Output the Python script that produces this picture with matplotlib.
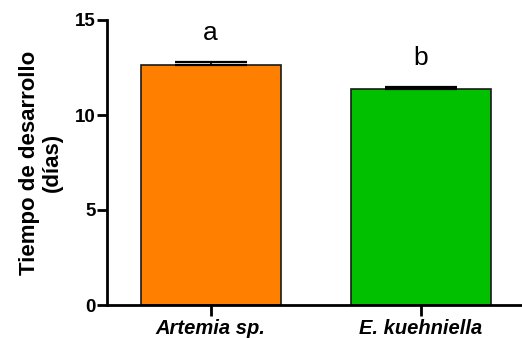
import matplotlib
matplotlib.use('Agg')
import matplotlib.pyplot as plt

# data
categories = ['Artemia sp.', 'E. kuehniella']
means = [12.63, 11.37]
errors = [0.17, 0.10]
letters = ['a', 'b']
letter_y = [14.3, 13.0]
bar_colors = ['#FF8000', '#00C000']
yticks = [0, 5, 10, 15]

plt.rcParams['font.family'] = ['Liberation Sans', 'DejaVu Sans']

fig = plt.figure(figsize=(5.22, 3.38), dpi=100)
ax = fig.add_axes([107 / 522, 33 / 338, 1 - 107 / 522, 285 / 338])

x = list(range(len(categories)))
ax.bar(x, means, width=0.665, color=bar_colors, edgecolor='#1a1a1a',
       linewidth=1.2, zorder=2)
# only upper error bars
ax.errorbar(x, means, yerr=[[0, 0], errors], fmt='none', ecolor='black',
            elinewidth=1.2, capsize=26, capthick=1.6, zorder=3)

for xi, lab, ly in zip(x, letters, letter_y):
    ax.text(xi, ly, lab, ha='center', va='center', fontsize=19)

ax.set_xlim(-0.493, 1.48)
ax.set_ylim(0, 15)
ax.set_yticks(yticks)
ax.set_xticks(x)
ax.set_xticklabels(categories, fontsize=14.5, fontweight='bold', style='italic')
ax.tick_params(axis='y', labelsize=13.5, width=2, length=7, pad=1)
ax.tick_params(axis='x', width=2, length=8, pad=2)
for lbl in ax.get_yticklabels():
    lbl.set_fontweight('bold')

ax.set_ylabel('Tiempo de desarrollo\n(días)', fontsize=16, fontweight='bold',
              linespacing=1.15)
ax.yaxis.set_label_coords(-0.106, 0.5)

ax.spines['top'].set_visible(False)
ax.spines['right'].set_visible(False)
ax.spines['left'].set_linewidth(2)
ax.spines['bottom'].set_linewidth(2)

plt.savefig('out.png', dpi=100)
